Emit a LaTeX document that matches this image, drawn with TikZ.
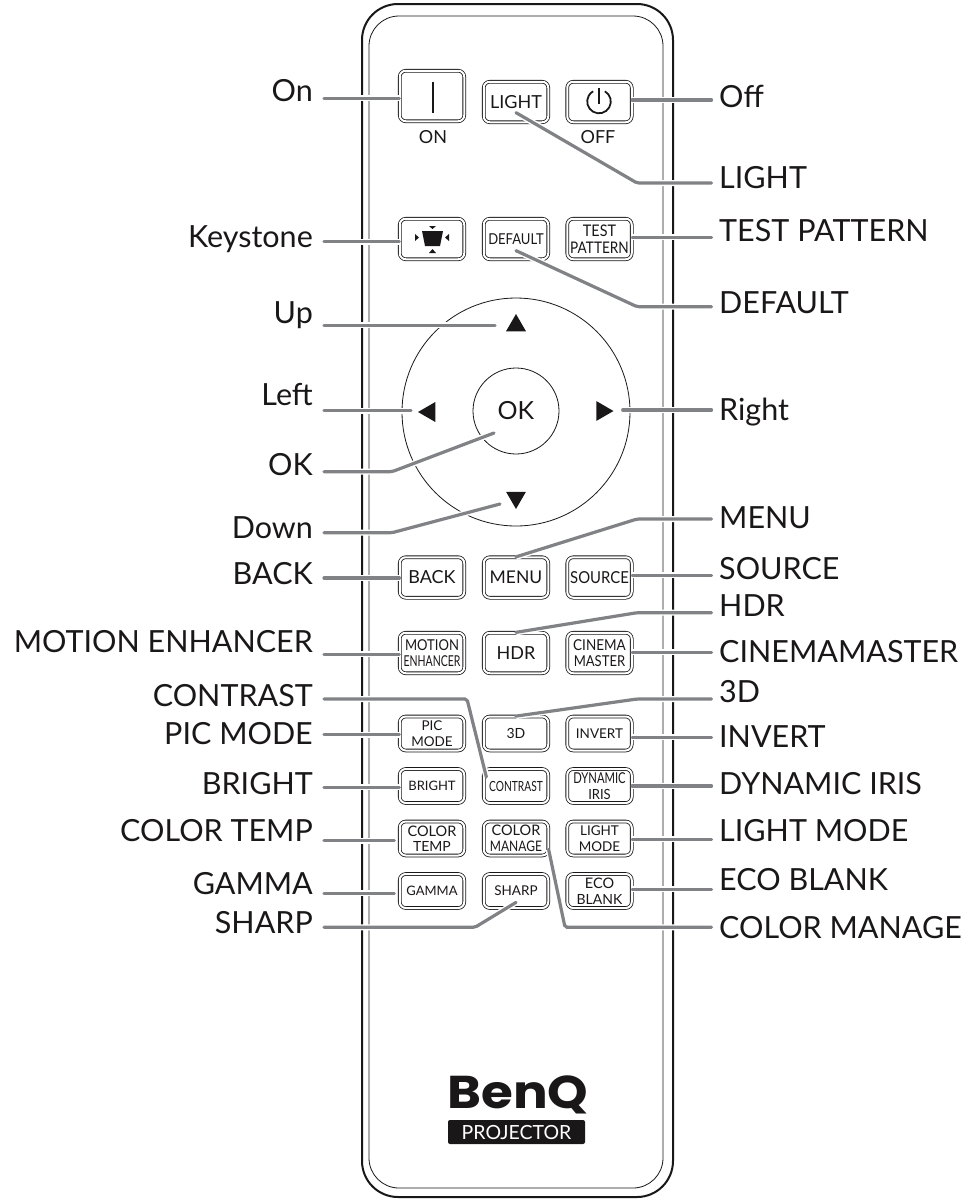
\documentclass[tikz,border=0pt]{standalone}
\usepackage{fontspec}
\setmainfont{Lato}
\newfontfamily\logofont{Poppins}
\usetikzlibrary{shapes.geometric}
\definecolor{leadgray}{HTML}{808285}
\definecolor{inkdark}{HTML}{1A1718}
\newcommand{\sz}[2]{{\fontsize{#1}{16}\selectfont #2}}
\newcommand{\sq}[3]{\scalebox{#2}[1]{\fontsize{#1}{16}\selectfont #3}}

\begin{document}
\begin{tikzpicture}[x=1pt, y=-1pt,
            callout/.style={font=\fontsize{30.5}{30.5}\selectfont, text=inkdark, inner sep=0pt},
            calloutl/.style={callout, anchor=base east},
            calloutr/.style={callout, anchor=base west},
            leader/.style={draw=leadgray, line width=3.2pt, line cap=round, rounded corners=2pt,
                preaction={draw=white, line width=6pt}},
            btn/.style={draw=inkdark, double, double distance=2pt, line width=0.8pt, rounded corners=6pt, text=inkdark,
                inner sep=0pt, minimum width=64.5pt, minimum height=40.5pt, align=center, font=\fontsize{13.5}{16.5}\selectfont},
            btnsm/.style={btn, minimum height=34pt, font=\fontsize{13.5}{15.5}\selectfont},
            keytext/.style={font=\fontsize{18}{18}\selectfont, text=inkdark},
            arrowhead/.style={regular polygon, regular polygon sides=3, fill=inkdark, inner sep=0pt, minimum size=23pt}]

            \useasboundingbox (0,0) rectangle (974,1200);

            % Body of the remote
            \draw[inkdark, line width=2pt, rounded corners=36pt] (362,4) rectangle (673,1197);
            \draw[inkdark, line width=0.8pt, rounded corners=30pt] (369,16) rectangle (663,1188);

            % Top buttons
            \node[btn, minimum height=50.5pt] (on) at (432,96) {};
            \node[btn] (light) at (516,102) {\sz{18}{LIGHT}};
            \node[btn] (off) at (599.5,102) {};
            \node[keytext] (ontext) at (433,137) {ON};
            \node[keytext] (offtext) at (598,137) {OFF};
            \draw[inkdark, line width=1.8pt] (433,82) -- (433,113);
            \draw[inkdark, line width=1.8pt] (599,88) -- (599,104);
            \draw[inkdark, line width=1.8pt] (604.9,91.3) arc[start angle=-60, end angle=240, radius=11.8];

            \node[btn] (keystone) at (432,239) {};
            \node[btn] (default) at (516,239) {\sq{15}{0.87}{DEFAULT}};
            \node[btn] (test) at (599.5,239) {\sq{16}{0.9}{TEST}\\\sq{16}{0.85}{PATTERN}};
            \fill[inkdark] (422,231) -- (443,231) -- (440,246) -- (425,246) -- cycle;
            \fill[inkdark] (429,226) -- (436,226) -- (432.5,229) -- cycle;
            \fill[inkdark] (429,253) -- (436,253) -- (432.5,249) -- cycle;
            \fill[inkdark] (415,234) -- (415,241) -- (419,237.5) -- cycle;
            \fill[inkdark] (449,234) -- (449,241) -- (445,237.5) -- cycle;

            % Direction pad
            \node[circle, draw=inkdark, line width=0.8pt, minimum size=228pt, inner sep=0pt] (pad) at (516,412) {};
            \node[circle, draw=inkdark, line width=0.8pt, minimum size=86pt, inner sep=0pt, text=inkdark, font=\fontsize{25}{25}\selectfont] (ok) at (516,411) {OK};
            \node[arrowhead] (upkey) at (516,325.5) {};
            \node[arrowhead, shape border rotate=180] (downkey) at (516,497.5) {};
            \node[arrowhead, shape border rotate=90] (leftkey) at (429.5,412) {};
            \node[arrowhead, shape border rotate=-90] (rightkey) at (602,411) {};
            \coordinate (upend) at (495,325.3);
            \coordinate (leftend) at (411,410.7);
            \coordinate (rightend) at (622.7,410);
            \coordinate (okend) at (494,433);
            \coordinate (downend) at (500,504);

            % Middle buttons
            \node[btn] (back) at (432,577.5) {\sz{18}{BACK}};
            \node[btn] (menu) at (516,577.5) {\sz{17.5}{MENU}};
            \node[btn] (source) at (599.5,577.5) {\sq{16.5}{0.9}{SOURCE}};
            \node[btn] (motion) at (432,653) {\sq{15}{0.87}{MOTION}\\\sq{15}{0.7}{ENHANCER}};
            \node[btn] (hdr) at (516,653) {\sz{18}{HDR}};
            \node[btn] (cinema) at (599.5,653) {\sq{15}{0.9}{CINEMA}\\\sq{15}{0.87}{MASTER}};

            % Lower buttons
            \node[btnsm] (picmode) at (432,733.5) {PIC\\MODE};
            \node[btnsm] (threed) at (516,733.5) {\sz{14}{3D}};
            \node[btnsm] (invert) at (599.5,733.5) {INVERT};
            \node[btnsm] (bright) at (432,786) {\sz{13}{BRIGHT}};
            \node[btnsm] (contrast) at (516,786) {\sq{14}{0.73}{CONTRAST}};
            \node[btnsm] (iris) at (599.5,786) {\sq{15}{0.75}{DYNAMIC}\\\sq{14}{0.93}{IRIS}};
            \node[btnsm] (temp) at (432,838.5) {\sz{14.5}{COLOR}\\\sz{14}{TEMP}};
            \node[btnsm] (manage) at (516,838.5) {\sz{14.5}{COLOR}\\\sq{14.5}{0.83}{MANAGE}};
            \node[btnsm] (lightmode) at (599.5,838.5) {LIGHT\\MODE};
            \node[btnsm] (gamma) at (432,891) {\sz{13}{GAMMA}};
            \node[btnsm] (sharp) at (516,891) {SHARP};
            \node[btnsm] (eco) at (599.5,891) {\sz{14.5}{ECO}\\\sz{14}{BLANK}};

            % Logo
            \node[font=\logofont\bfseries\fontsize{46}{46}\selectfont, text=inkdark, inner sep=0pt] (logo) at (518,1095) {\scalebox{1.12}[1]{BenQ}};
            \node[fill=inkdark, rounded corners=2pt, text=white, minimum width=137pt, minimum height=24pt, inner sep=0pt,
                font=\fontsize{19.5}{19.5}\selectfont] (brand) at (516.5,1132) {PROJECTOR};

            % Labels on the left
            \node[calloutl] (lon) at (313,101.7) {On};
            \node[calloutl] (lkeystone) at (313,247) {Keystone};
            \node[calloutl] (lup) at (313,323.3) {Up};
            \node[calloutl] (lleft) at (313,405) {Left};
            \node[calloutl] (lok) at (313,475) {OK};
            \node[calloutl] (ldown) at (313,538) {Down};
            \node[calloutl] (lback) at (313,584.7) {BACK};
            \node[calloutl] (lmotion) at (313,652.7) {MOTION ENHANCER};
            \node[calloutl] (lcontrast) at (313,706.7) {CONTRAST};
            \node[calloutl] (lpic) at (313,744.3) {PIC MODE};
            \node[calloutl] (lbright) at (313,794) {BRIGHT};
            \node[calloutl] (ltemp) at (313,841) {COLOR TEMP};
            \node[calloutl] (lgamma) at (313,894) {GAMMA};
            \node[calloutl] (lsharp) at (313,933) {SHARP};

            % Labels on the right
            \node[calloutr] (roff) at (719,107.7) {Off};
            \node[calloutr] (rlight) at (719,188.3) {LIGHT};
            \node[calloutr] (rtest) at (719,241.7) {TEST PATTERN};
            \node[calloutr] (rdefault) at (719,313.3) {DEFAULT};
            \node[calloutr] (rright) at (719,420) {Right};
            \node[calloutr] (rmenu) at (719,528.3) {MENU};
            \node[calloutr] (rsource) at (719,579) {SOURCE};
            \node[calloutr] (rhdr) at (719,616.7) {HDR};
            \node[calloutr] (rcinema) at (719,662.7) {CINEMAMASTER};
            \node[calloutr] (rthreed) at (719,702.7) {3D};
            \node[calloutr] (rinvert) at (719,747.3) {INVERT};
            \node[calloutr] (riris) at (719,794) {DYNAMIC IRIS};
            \node[calloutr] (rlightmode) at (719,841) {LIGHT MODE};
            \node[calloutr] (reco) at (719,890.7) {ECO BLANK};
            \node[calloutr] (rmanage) at (719,938.3) {COLOR MANAGE};

            % Leaders on the left
            \draw[leader] ([shift={(11,-3.4)}]lon.base east) coordinate (p) -- (p -| on.west);
            \draw[leader] ([shift={(11,-5.3)}]lkeystone.base east) coordinate (p) -- (p -| keystone.west);
            \draw[leader] ([shift={(11,2)}]lup.base east) coordinate (p) -- (p -| upend);
            \draw[leader] ([shift={(11,5.7)}]lleft.base east) coordinate (p) -- (p -| leftend);
            \draw[leader] ([shift={(11,-3.3)}]lok.base east) coordinate (p) -- (392,471.7) -- (okend);
            \draw[leader] ([shift={(11,-5.3)}]ldown.base east) coordinate (p) -- (392,532.7) -- (downend);
            \draw[leader] ([shift={(11,-6.7)}]lback.base east) coordinate (p) -- (p -| back.west);
            \draw[leader] ([shift={(11,1.6)}]lmotion.base east) coordinate (p) -- (p -| motion.west);
            \draw[leader] ([shift={(11,-7.7)}]lcontrast.base east) coordinate (p) -- (467,699) -- ([shift={(3,-9)}]contrast.west);
            \draw[leader] ([shift={(11,-9.6)}]lpic.base east) coordinate (p) -- (p -| picmode.west);
            \draw[leader] ([shift={(11,-6.7)}]lbright.base east) coordinate (p) -- (p -| bright.west);
            \draw[leader] ([shift={(11,-0.3)}]ltemp.base east) coordinate (p) -- ([xshift=-5pt]p -| temp.west);
            \draw[leader] ([shift={(11,-0.7)}]lgamma.base east) coordinate (p) -- ([xshift=-5pt]p -| gamma.west);
            \draw[leader] ([shift={(11,-5.7)}]lsharp.base east) coordinate (p) -- (475,927.3) -- ([yshift=6pt]sharp.south);

            % Leaders on the right
            \draw[leader] ([shift={(-7.5,-7.7)}]roff.base west) coordinate (p) -- (p -| off.east);
            \draw[leader] ([shift={(-7.5,-5.3)}]rlight.base west) coordinate (p) -- (637,183) -- ([yshift=10pt]light.south);
            \draw[leader] ([shift={(-7.5,-4.4)}]rtest.base west) coordinate (p) -- (p -| test.east);
            \draw[leader] ([shift={(-7.5,-6.6)}]rdefault.base west) coordinate (p) -- (637,306.7) -- ([yshift=9pt]default.south);
            \draw[leader] ([shift={(-7.5,-10)}]rright.base west) coordinate (p) -- (p -| rightend);
            \draw[leader] ([shift={(-7.5,-9.3)}]rmenu.base west) coordinate (p) -- (637,519) -- (menu.north);
            \draw[leader] ([shift={(-7.5,-3.7)}]rsource.base west) coordinate (p) -- (p -| source.east);
            \draw[leader] ([shift={(-7.5,-4)}]rhdr.base west) coordinate (p) -- (637,612.7) -- (hdr.north);
            \draw[leader] ([shift={(-7.5,-10.4)}]rcinema.base west) coordinate (p) -- (p -| cinema.east);
            \draw[leader] ([shift={(-7.5,-3.7)}]rthreed.base west) coordinate (p) -- (637,699) -- (threed.north);
            \draw[leader] ([shift={(-7.5,-10)}]rinvert.base west) coordinate (p) -- (p -| invert.east);
            \draw[leader] ([shift={(-7.5,-8)}]riris.base west) coordinate (p) -- (p -| iris.east);
            \draw[leader] ([shift={(-7.5,-1.7)}]rlightmode.base west) coordinate (p) -- (p -| lightmode.east);
            \draw[leader] ([shift={(-7.5,-1.4)}]reco.base west) coordinate (p) -- (p -| eco.east);
            \draw[leader] ([shift={(-7.5,-11)}]rmanage.base west) coordinate (p) -- (565,927.3) -- ([yshift=-11pt]manage.east);
        \end{tikzpicture}
\end{document}
